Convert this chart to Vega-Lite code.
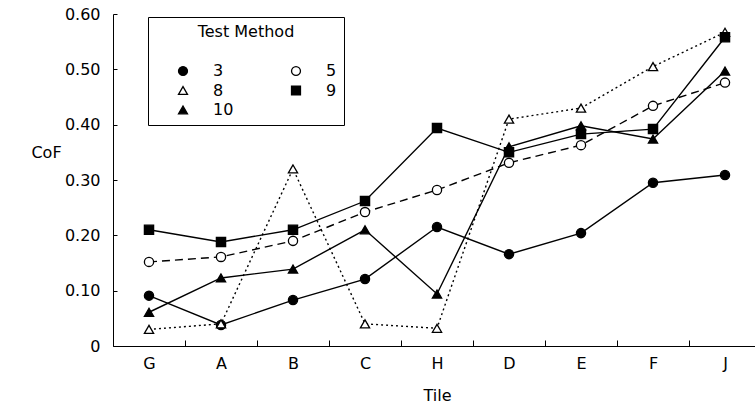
{
  "$schema": "https://vega.github.io/schema/vega-lite/v6.json",
  "width": 642,
  "height": 332,
  "autosize": {"type": "none"},
  "padding": {"left": 113, "top": 14, "right": 0, "bottom": 60},
  "background": "white",
  "config": {
    "view": {"stroke": null},
    "font": "DejaVu Sans",
    "axis": {
      "domainColor": "black",
      "tickColor": "black",
      "labelColor": "black",
      "titleColor": "black",
      "labelFont": "DejaVu Sans",
      "titleFont": "DejaVu Sans",
      "labelFontSize": 16,
      "titleFontSize": 16,
      "titleFontWeight": "normal",
      "grid": false
    },
    "legend": {
      "orient": "none",
      "legendX": 35,
      "legendY": 3,
      "columns": 2,
      "direction": "horizontal",
      "gridAlign": "all",
      "padding": 7,
      "strokeColor": "black",
      "fillColor": "white",
      "titleAnchor": "middle",
      "titleFont": "DejaVu Sans",
      "titleFontSize": 16,
      "titleFontWeight": "normal",
      "titleColor": "black",
      "titlePadding": 23,
      "labelFont": "DejaVu Sans",
      "labelFontSize": 16,
      "labelColor": "black",
      "labelOffset": 22,
      "symbolOffset": 20,
      "symbolSize": 80,
      "symbolStrokeWidth": 1.3,
      "rowPadding": 3.5,
      "columnPadding": 34
    }
  },
  "data": {
    "values": [
      {"tile": "G", "method": "3", "cof": 0.091},
      {"tile": "A", "method": "3", "cof": 0.038},
      {"tile": "B", "method": "3", "cof": 0.083},
      {"tile": "C", "method": "3", "cof": 0.121},
      {"tile": "H", "method": "3", "cof": 0.215},
      {"tile": "D", "method": "3", "cof": 0.166},
      {"tile": "E", "method": "3", "cof": 0.204},
      {"tile": "F", "method": "3", "cof": 0.295},
      {"tile": "J", "method": "3", "cof": 0.309},
      {"tile": "G", "method": "5", "cof": 0.152},
      {"tile": "A", "method": "5", "cof": 0.161},
      {"tile": "B", "method": "5", "cof": 0.19},
      {"tile": "C", "method": "5", "cof": 0.242},
      {"tile": "H", "method": "5", "cof": 0.282},
      {"tile": "D", "method": "5", "cof": 0.331},
      {"tile": "E", "method": "5", "cof": 0.363},
      {"tile": "F", "method": "5", "cof": 0.434},
      {"tile": "J", "method": "5", "cof": 0.476},
      {"tile": "G", "method": "8", "cof": 0.03},
      {"tile": "A", "method": "8", "cof": 0.04},
      {"tile": "B", "method": "8", "cof": 0.32},
      {"tile": "C", "method": "8", "cof": 0.04},
      {"tile": "H", "method": "8", "cof": 0.032},
      {"tile": "D", "method": "8", "cof": 0.41},
      {"tile": "E", "method": "8", "cof": 0.43},
      {"tile": "F", "method": "8", "cof": 0.505},
      {"tile": "J", "method": "8", "cof": 0.567},
      {"tile": "G", "method": "9", "cof": 0.21},
      {"tile": "A", "method": "9", "cof": 0.188},
      {"tile": "B", "method": "9", "cof": 0.21},
      {"tile": "C", "method": "9", "cof": 0.262},
      {"tile": "H", "method": "9", "cof": 0.394},
      {"tile": "D", "method": "9", "cof": 0.35},
      {"tile": "E", "method": "9", "cof": 0.383},
      {"tile": "F", "method": "9", "cof": 0.392},
      {"tile": "J", "method": "9", "cof": 0.558},
      {"tile": "G", "method": "10", "cof": 0.061},
      {"tile": "A", "method": "10", "cof": 0.123},
      {"tile": "B", "method": "10", "cof": 0.139},
      {"tile": "C", "method": "10", "cof": 0.21},
      {"tile": "H", "method": "10", "cof": 0.094},
      {"tile": "D", "method": "10", "cof": 0.36},
      {"tile": "E", "method": "10", "cof": 0.398},
      {"tile": "F", "method": "10", "cof": 0.374},
      {"tile": "J", "method": "10", "cof": 0.497}
    ]
  },
  "encoding": {
    "x": {
      "field": "tile",
      "type": "nominal",
      "sort": ["G", "A", "B", "C", "H", "D", "E", "F", "J"],
      "scale": {"type": "band", "range": [0, 648], "paddingInner": 0, "paddingOuter": 0},
      "axis": {
        "title": "Tile",
        "labelAngle": 0,
        "tickBand": "extent",
        "tickSize": -6,
        "labelPadding": 15,
        "titlePadding": 16
      }
    },
    "y": {
      "field": "cof",
      "type": "quantitative",
      "scale": {"domain": [0, 0.6], "nice": false, "zero": true},
      "axis": {
        "title": "CoF",
        "values": [0, 0.1, 0.2, 0.3, 0.4, 0.5, 0.6],
        "labelExpr": "datum.value == 0 ? '0' : format(datum.value, '.2f')",
        "tickSize": -4,
        "labelPadding": 17,
        "titleAngle": 0,
        "titleX": -67,
        "titleY": 138,
        "titleAlign": "center",
        "titleBaseline": "middle"
      }
    }
  },
  "layer": [
    {
      "transform": [{"filter": "datum.method == '3' || datum.method == '9' || datum.method == '10'"}],
      "mark": {"type": "line", "color": "black", "strokeWidth": 1.4},
      "encoding": {
        "detail": {"field": "method", "type": "nominal"}
      }
    },
    {
      "transform": [{"filter": "datum.method == '5'"}],
      "mark": {"type": "line", "color": "black", "strokeWidth": 1.4, "strokeDash": [8, 5]},
      "encoding": {}
    },
    {
      "transform": [{"filter": "datum.method == '8'"}],
      "mark": {"type": "line", "color": "black", "strokeWidth": 1.4, "strokeDash": [2, 3]},
      "encoding": {}
    },
    {
      "mark": {"type": "point", "filled": false, "strokeWidth": 1.3, "opacity": 1, "size": 85},
      "encoding": {
        "shape": {
          "field": "method",
          "type": "nominal",
          "scale": {
            "domain": ["3", "5", "8", "9", "10"],
            "range": ["circle", "circle", "triangle-up", "square", "triangle-up"]
          },
          "legend": {"title": "Test Method"}
        },
        "fill": {
          "field": "method",
          "type": "nominal",
          "scale": {
            "domain": ["3", "5", "8", "9", "10"],
            "range": ["black", "white", "white", "black", "black"]
          },
          "legend": {"title": "Test Method"}
        },
        "stroke": {
          "field": "method",
          "type": "nominal",
          "scale": {
            "domain": ["3", "5", "8", "9", "10"],
            "range": ["black", "black", "black", "black", "black"]
          },
          "legend": {"title": "Test Method"}
        }
      }
    }
  ]
}
